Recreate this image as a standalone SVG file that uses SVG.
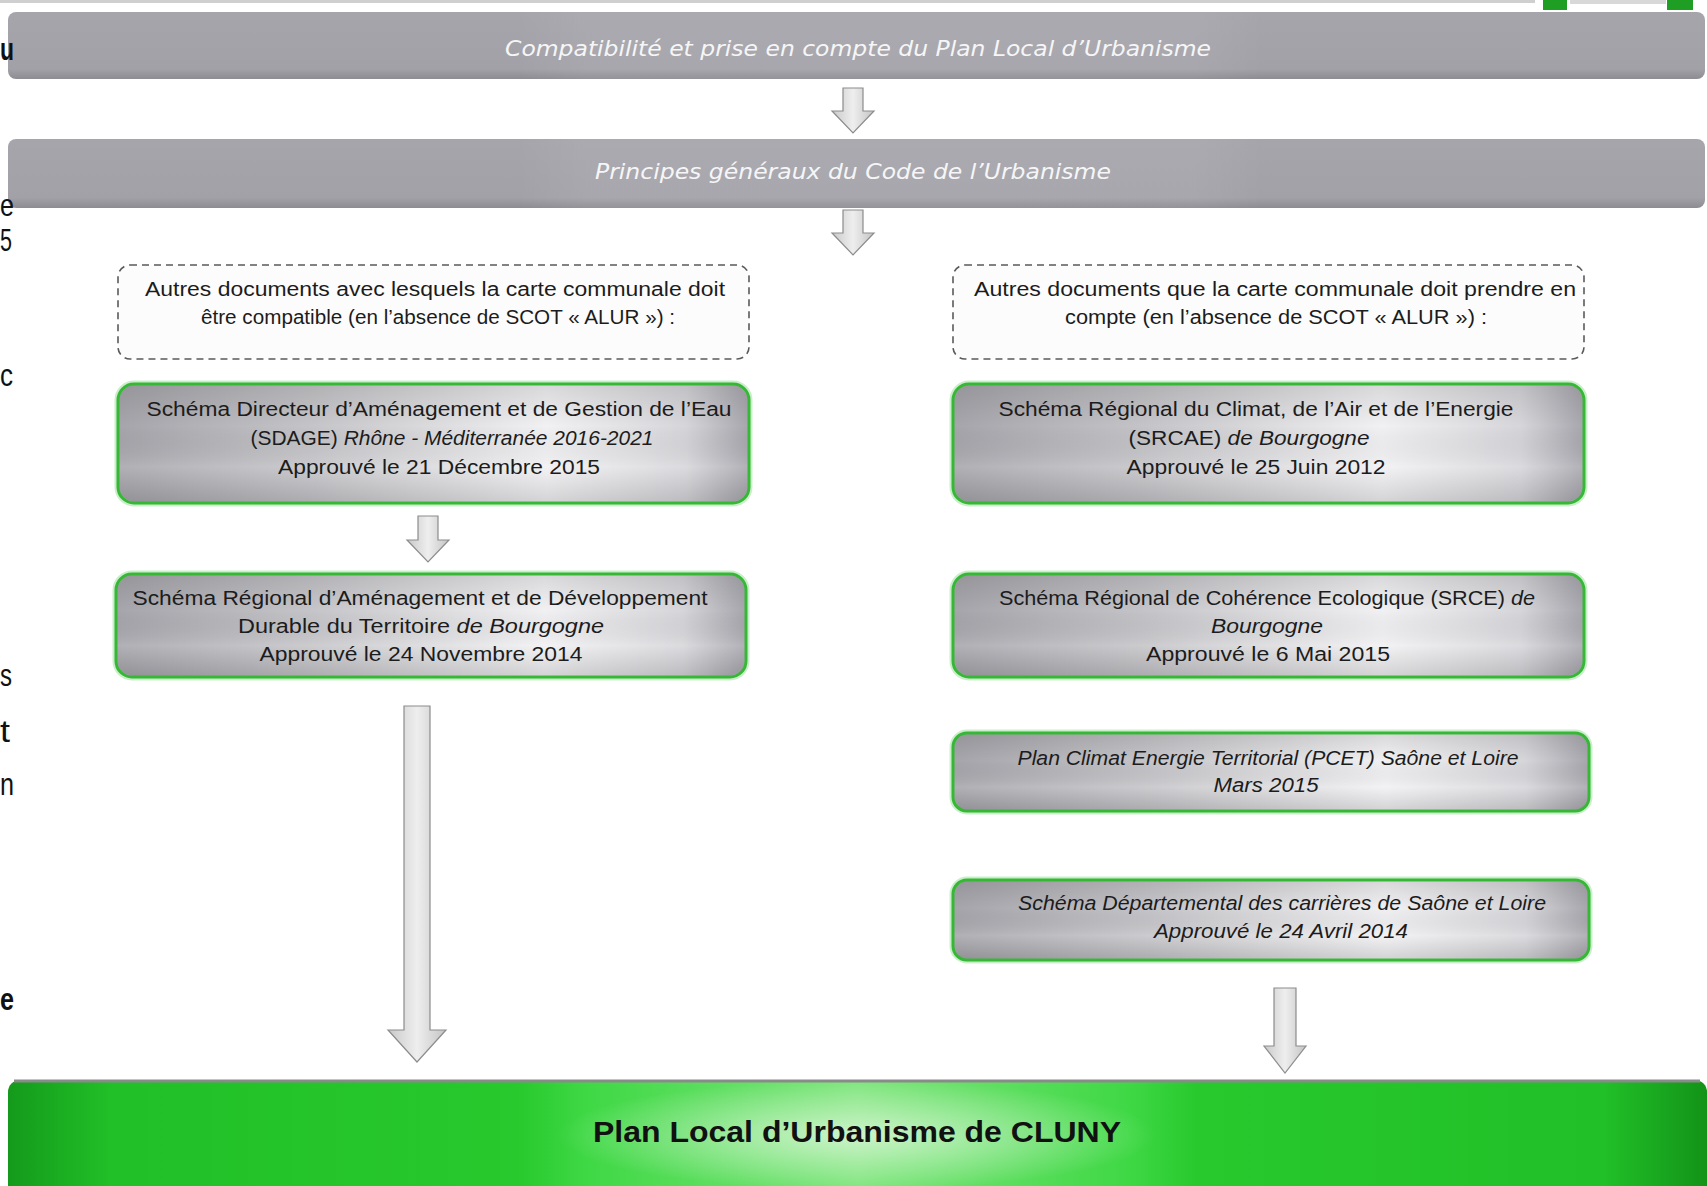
<svg xmlns="http://www.w3.org/2000/svg" width="1707" height="1186" viewBox="0 0 1707 1186">
<style>
.t{font-family:"Liberation Sans",Arial,sans-serif;font-size:20px;fill:#1c1c1c;text-anchor:middle}
.i{font-style:italic}
.bt{font-family:"Liberation Sans Narrow","DejaVu Sans Condensed","Liberation Sans",sans-serif;font-style:italic;font-size:22px;fill:#f6f6f6;text-anchor:middle}
.ttl{font-family:"Liberation Sans",Arial,sans-serif;font-weight:bold;font-size:29px;fill:#111;text-anchor:middle}
.edge{font-family:"Liberation Sans",Arial,sans-serif;font-size:32px;fill:#111}
.dash{fill:#fcfcfc;stroke:#5a5a5a;stroke-width:1.6;stroke-dasharray:7 5}
.box{fill:url(#silver);stroke:#36b836;stroke-width:3}
.boxsh{fill:url(#shade)}
.glow{fill:none;stroke:#c9eec9;stroke-width:7}
.arr{fill:url(#arrg);stroke:#8c8c8c;stroke-width:1.2}
</style>
<defs>
<linearGradient id="silver" x1="0" y1="0" x2="1" y2="0">
<stop offset="0" stop-color="#a6a5ab"/>
<stop offset="0.3" stop-color="#c4c4c8"/>
<stop offset="0.68" stop-color="#f1f1f3"/>
<stop offset="0.9" stop-color="#d6d6da"/>
<stop offset="1" stop-color="#a7a6ad"/>
</linearGradient>
<linearGradient id="shade" x1="0" y1="0" x2="0" y2="1">
<stop offset="0" stop-color="#000" stop-opacity="0.10"/>
<stop offset="0.35" stop-color="#000" stop-opacity="0"/>
<stop offset="0.7" stop-color="#fff" stop-opacity="0.12"/>
<stop offset="1" stop-color="#000" stop-opacity="0.12"/>
</linearGradient>
<linearGradient id="band" x1="0" y1="0" x2="0" y2="1">
<stop offset="0" stop-color="#a6a5ac"/>
<stop offset="0.85" stop-color="#a2a1a8"/>
<stop offset="1" stop-color="#8d8c92"/>
</linearGradient>
<linearGradient id="bandhl" x1="0" y1="0" x2="1" y2="0">
<stop offset="0" stop-color="#fff" stop-opacity="0"/>
<stop offset="0.3" stop-color="#fff" stop-opacity="0"/>
<stop offset="0.34" stop-color="#fff" stop-opacity="0.06"/>
<stop offset="0.7" stop-color="#fff" stop-opacity="0.06"/>
<stop offset="0.74" stop-color="#fff" stop-opacity="0"/>
</linearGradient>
<linearGradient id="green" x1="0" y1="0" x2="1" y2="0">
<stop offset="0" stop-color="#149a1b"/>
<stop offset="0.06" stop-color="#21bf28"/>
<stop offset="0.3" stop-color="#27c92d"/>
<stop offset="0.34" stop-color="#3fd845"/>
<stop offset="0.5" stop-color="#7fe57d"/>
<stop offset="0.66" stop-color="#3fd845"/>
<stop offset="0.7" stop-color="#27c92d"/>
<stop offset="0.94" stop-color="#21bf28"/>
<stop offset="1" stop-color="#139318"/>
</linearGradient>
<radialGradient id="gglow" cx="0.5" cy="0.5" r="0.5">
<stop offset="0" stop-color="#e6f8e3" stop-opacity="0.75"/>
<stop offset="1" stop-color="#e6f8e3" stop-opacity="0"/>
</radialGradient>
<linearGradient id="arrg" x1="0" y1="0" x2="1" y2="0">
<stop offset="0" stop-color="#c9c9c9"/>
<stop offset="0.5" stop-color="#eeeeee"/>
<stop offset="1" stop-color="#c4c4c4"/>
</linearGradient>
</defs>
<rect width="1707" height="1186" fill="#ffffff"/>
<rect x="0" y="0" width="1535" height="3" fill="#cfcfcf"/>
<rect x="1543" y="0" width="24" height="10" fill="#1e9e23"/>
<rect x="1570" y="0" width="96" height="4" fill="#d8d8d8"/>
<rect x="1667" y="0" width="26" height="10" fill="#1e9e23"/>

<g id="band-compat">
<rect x="8" y="12" width="1697" height="67" rx="8" fill="url(#band)"/>
<rect x="8" y="12" width="1697" height="67" rx="8" fill="url(#bandhl)"/>
<text class="bt" x="858" y="56" textLength="706" lengthAdjust="spacingAndGlyphs">Compatibilité et prise en compte  du Plan Local d’Urbanisme</text>
</g>
<g id="band-principes">
<rect x="8" y="139" width="1697" height="69" rx="8" fill="url(#band)"/>
<rect x="8" y="139" width="1697" height="69" rx="8" fill="url(#bandhl)"/>
<text class="bt" x="853" y="179" textLength="516" lengthAdjust="spacingAndGlyphs">Principes généraux du Code de l’Urbanisme</text>
</g>

<g id="dash-compatible">
<rect class="dash" x="118" y="265" width="631" height="94" rx="12"/>
<text class="t" x="435" y="296" textLength="580" lengthAdjust="spacingAndGlyphs">Autres documents avec lesquels la carte communale doit</text>
<text class="t" x="438" y="324" textLength="474" lengthAdjust="spacingAndGlyphs">être compatible (en l’absence de SCOT « ALUR ») :</text>
</g>
<g id="dash-prendre">
<rect class="dash" x="953" y="265" width="631" height="94" rx="12"/>
<text class="t" x="1275" y="296" textLength="602" lengthAdjust="spacingAndGlyphs">Autres documents que la carte communale doit prendre en</text>
<text class="t" x="1276" y="324" textLength="422" lengthAdjust="spacingAndGlyphs">compte (en l’absence de SCOT « ALUR ») :</text>
</g>

<g id="sdage">
<rect class="glow" x="118" y="384" width="631" height="119" rx="16"/>
<rect class="box" x="118" y="384" width="631" height="119" rx="16"/>
<rect class="boxsh" x="119.5" y="385.5" width="628" height="116" rx="15"/>
<text class="t" x="439" y="416" textLength="585" lengthAdjust="spacingAndGlyphs">Schéma Directeur d’Aménagement et de Gestion de l’Eau</text>
<text class="t" x="452" y="445" textLength="403" lengthAdjust="spacingAndGlyphs">(SDAGE)  <tspan class="i">Rhône - Méditerranée 2016-2021</tspan></text>
<text class="t" x="439" y="474" textLength="322" lengthAdjust="spacingAndGlyphs">Approuvé le 21 Décembre 2015</text>
</g>
<g id="srcae">
<rect class="glow" x="953" y="384" width="631" height="119" rx="16"/>
<rect class="box" x="953" y="384" width="631" height="119" rx="16"/>
<rect class="boxsh" x="954.5" y="385.5" width="628" height="116" rx="15"/>
<text class="t" x="1256" y="416" textLength="515" lengthAdjust="spacingAndGlyphs">Schéma Régional du Climat, de l’Air et de l’Energie</text>
<text class="t" x="1249" y="445" textLength="241" lengthAdjust="spacingAndGlyphs">(SRCAE)  <tspan class="i">de Bourgogne</tspan></text>
<text class="t" x="1256" y="474" textLength="259" lengthAdjust="spacingAndGlyphs">Approuvé le 25 Juin 2012</text>
</g>
<g id="sraddt">
<rect class="glow" x="116" y="574" width="630" height="103" rx="16"/>
<rect class="box" x="116" y="574" width="630" height="103" rx="16"/>
<rect class="boxsh" x="117.5" y="575.5" width="627" height="100" rx="15"/>
<text class="t" x="420" y="605" textLength="575" lengthAdjust="spacingAndGlyphs">Schéma Régional d’Aménagement et de Développement</text>
<text class="t" x="421" y="633" textLength="366" lengthAdjust="spacingAndGlyphs">Durable du Territoire <tspan class="i">de Bourgogne</tspan></text>
<text class="t" x="421" y="661" textLength="323" lengthAdjust="spacingAndGlyphs">Approuvé le 24 Novembre 2014</text>
</g>
<g id="srce">
<rect class="glow" x="953" y="574" width="631" height="103" rx="16"/>
<rect class="box" x="953" y="574" width="631" height="103" rx="16"/>
<rect class="boxsh" x="954.5" y="575.5" width="628" height="100" rx="15"/>
<text class="t" x="1267" y="605" textLength="536" lengthAdjust="spacingAndGlyphs">Schéma Régional de Cohérence Ecologique (SRCE) <tspan class="i">de</tspan></text>
<text class="t i" x="1267" y="633" textLength="112" lengthAdjust="spacingAndGlyphs">Bourgogne</text>
<text class="t" x="1268" y="661" textLength="244" lengthAdjust="spacingAndGlyphs">Approuvé le 6 Mai 2015</text>
</g>
<g id="pcet">
<rect class="glow" x="953" y="733" width="636" height="78" rx="14"/>
<rect class="box" x="953" y="733" width="636" height="78" rx="14"/>
<rect class="boxsh" x="954.5" y="734.5" width="633" height="75" rx="13"/>
<text class="t i" x="1268" y="765" textLength="501" lengthAdjust="spacingAndGlyphs">Plan Climat Energie Territorial (PCET) Saône et Loire</text>
<text class="t i" x="1266" y="792" textLength="105" lengthAdjust="spacingAndGlyphs">Mars 2015</text>
</g>
<g id="carrieres">
<rect class="glow" x="953" y="880" width="636" height="80" rx="14"/>
<rect class="box" x="953" y="880" width="636" height="80" rx="14"/>
<rect class="boxsh" x="954.5" y="881.5" width="633" height="77" rx="13"/>
<text class="t i" x="1282" y="910" textLength="528" lengthAdjust="spacingAndGlyphs">Schéma Départemental des carrières de Saône et Loire</text>
<text class="t i" x="1281" y="938" textLength="254" lengthAdjust="spacingAndGlyphs">Approuvé le 24 Avril 2014</text>
</g>

<g id="plu-cluny">
<rect x="8" y="1080" width="1699" height="120" rx="12" fill="url(#green)"/>
<ellipse cx="857" cy="1135" rx="300" ry="55" fill="url(#gglow)"/>
<path d="M14,1081 H1700" stroke="#8a8a8a" stroke-width="3" fill="none"/>
<text class="ttl" x="857" y="1142" textLength="528" lengthAdjust="spacingAndGlyphs">Plan Local d’Urbanisme de CLUNY</text>
</g>

<g id="connectors">
<path class="arr" d="M843,88 H863 V111 H874 L853,133 L832,111 H843 Z"/>
<path class="arr" d="M843,210 H863 V233 H874 L853,255 L832,233 H843 Z"/>
<path class="arr" d="M418,516 H438 V540 H449 L428,562 L407,540 H418 Z"/>
<path class="arr" d="M404,706 H430 V1030 H446 L417,1062 L388,1030 H404 Z"/>
<path class="arr" d="M1274,988 H1296 V1046 H1306 L1285,1073 L1264,1046 H1274 Z"/>
</g>

<g id="page-edge-text">
<text class="edge" x="0" y="60" font-weight="bold" textLength="14" lengthAdjust="spacingAndGlyphs">u</text>
<text class="edge" x="0" y="216" textLength="14" lengthAdjust="spacingAndGlyphs">e</text>
<text class="edge" x="0" y="251" textLength="12" lengthAdjust="spacingAndGlyphs">5</text>
<text class="edge" x="0" y="386" textLength="13" lengthAdjust="spacingAndGlyphs">c</text>
<text class="edge" x="0" y="686" textLength="12" lengthAdjust="spacingAndGlyphs">s</text>
<text class="edge" x="0" y="742" textLength="10" lengthAdjust="spacingAndGlyphs">t</text>
<text class="edge" x="0" y="795" textLength="14" lengthAdjust="spacingAndGlyphs">n</text>
<text class="edge" x="0" y="1010" font-weight="bold" textLength="14" lengthAdjust="spacingAndGlyphs">e</text>
</g>
</svg>
